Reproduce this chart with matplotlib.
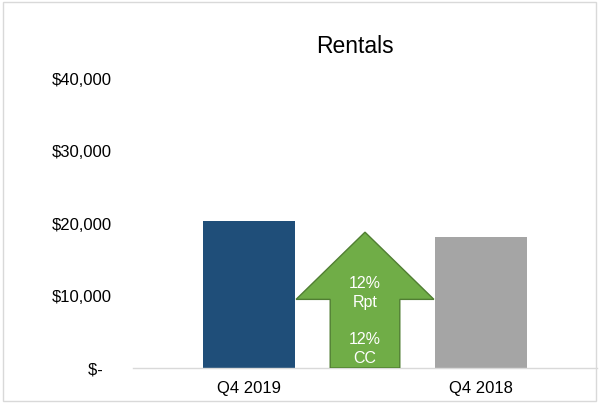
import matplotlib
matplotlib.use("Agg")
import matplotlib.pyplot as plt
from matplotlib.patches import Polygon, Rectangle
from matplotlib.ticker import FuncFormatter

categories = ["Q4 2019", "Q4 2018"]
values = [20400, 18200]
bar_colors = ["#1F4E79", "#A5A5A5"]
yticks = [0, 10000, 20000, 30000, 40000]
title = "Rentals"
arrow_text = "12%\nRpt\n\n12%\nCC"
arrow_tip = 18800
arrow_head_base = 9500
arrow_text_y = 6500

plt.rcParams['font.family'] = ['Liberation Sans', 'DejaVu Sans']

fig = plt.figure(figsize=(5.99, 4.03), dpi=100)
ax = fig.add_axes([0.222, 0.0868, 0.7747, 0.7172])

x = list(range(len(categories)))
ax.bar(x, values, width=0.4, color=bar_colors, zorder=2)

# arrow between bars
mid = 0.5
poly = [(mid, arrow_tip), (mid + 0.297, arrow_head_base), (mid + 0.15, arrow_head_base),
        (mid + 0.15, 0), (mid - 0.15, 0), (mid - 0.15, arrow_head_base),
        (mid - 0.297, arrow_head_base)]
ax.add_patch(Polygon(poly, closed=True, facecolor="#70AD47", edgecolor="#507E32",
                     linewidth=1.0, zorder=3))
ax.text(mid, arrow_text_y, arrow_text, color="white", ha="center", va="center",
        fontsize=11.5, linespacing=1.3, zorder=4)

ax.set_xlim(-0.5, 1.5)
ax.set_ylim(0, 40000)
ax.set_xticks(x)
ax.set_xticklabels(categories, fontsize=12)
ax.set_yticks(yticks)

def fmt(v, pos):
    if v == 0:
        return "$-  "
    return "${:,.0f}".format(v)

ax.yaxis.set_major_formatter(FuncFormatter(fmt))
ax.tick_params(axis='y', length=0, pad=15, labelsize=12)
ax.tick_params(axis='x', length=0, pad=9)

for s in ["top", "right", "left"]:
    ax.spines[s].set_visible(False)
ax.spines["bottom"].set_color("#D9D9D9")
ax.spines["bottom"].set_linewidth(1.0)

fig.text(355 / 599, 1 - 46.7 / 403, title, ha="center", va="center", fontsize=16.5)

fig.patches.append(Rectangle((0.005, 0.005), 0.99, 0.99, transform=fig.transFigure,
                             fill=False, edgecolor="#D9D9D9", linewidth=1.0))

fig.savefig("out.png", dpi=100)
